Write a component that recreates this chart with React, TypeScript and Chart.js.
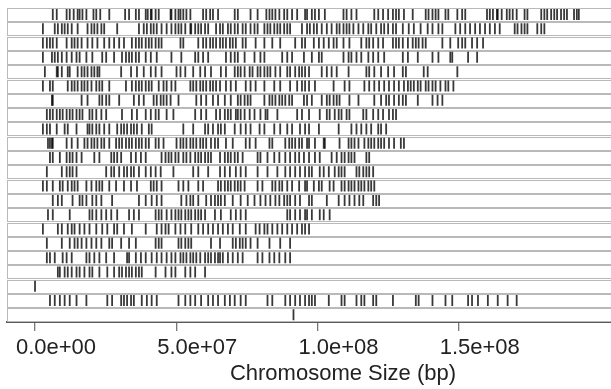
import React, { useEffect, useRef } from "react";
import { Chart, registerables } from "chart.js";

Chart.register(...registerables);

// Chromosome names (rows, top to bottom)
const CHROMOSOMES = ["1","2","3","4","5","6","7","8","9","10","11","12","13","14","15","16","17","18","19","M","X","Y"];

// Feature positions per chromosome, in Mb
const chr1 = [6.3,7.7,11.2,12.3,13.7,15.1,15.8,16.8,18.2,20.7,21.7,23.1,26.3,31.9,33.3,35.7,36.8,39.2,39.9,41.0,41.3,42.7,43.8,48.0,48.3,49.7,50.8,51.5,52.5,53.6,55.0,59.5,60.6,62.0,63.0,64.8,70.7,71.8,76.3,78.8,81.9,83.0,84.0,85.1,86.5,88.2,89.3,91.0,92.8,95.6,96.3,98.0,99.1,100.5,102.6,109.2,110.3,112.0,113.8,120.1,121.5,123.2,125.0,126.7,127.8,128.8,130.6,133.7,138.3,139.3,140.7,141.8,142.8,145.3,146.3,149.5,151.2,152.3,160.0,161.0,162.1,163.5,163.8,165.2,167.0,168.0,169.1,170.5,173.3,174.3,179.2,180.3,181.3,182.7,183.8,184.8,186.2,187.3,188.3,190.8,191.8,192.5];
const chr2 = [2.8,7.0,8.1,9.5,10.5,11.6,13.0,15.1,18.6,20.0,21.0,22.1,23.5,24.5,29.1,36.8,38.5,39.6,41.0,42.0,43.1,44.8,46.6,48.3,49.7,50.8,51.8,53.2,55.0,55.3,56.7,57.8,58.8,60.2,61.3,64.1,65.5,66.5,68.3,69.3,70.7,71.8,73.5,74.6,76.3,77.7,78.8,81.2,82.3,83.3,84.7,85.8,86.8,88.2,89.3,90.3,94.5,96.3,97.3,98.7,99.8,101.5,103.3,105.0,106.8,107.8,109.2,110.3,111.3,112.7,114.5,116.2,118.0,119.0,120.8,122.5,123.6,125.0,126.7,127.8,130.2,132.3,134.1,136.5,139.0,140.7,142.8,144.2,148.8,150.5,152.3,154.0,155.8,157.5,159.3,161.0,162.8,164.5,169.8,170.8,172.2,173.3,174.3,177.8,179.2,180.3];
const chr3 = [2.8,4.2,5.3,6.3,7.7,11.2,13.0,14.0,15.1,16.5,18.6,20.3,22.1,24.5,26.3,28.0,29.8,31.5,34.3,35.7,36.8,37.8,39.2,40.3,41.3,42.7,43.8,44.8,51.5,52.5,57.8,59.5,60.6,62.0,63.0,64.1,65.5,66.5,67.6,69.0,70.0,71.1,73.5,74.6,78.1,81.2,84.0,86.8,92.1,94.5,95.6,98.7,100.5,102.2,104.0,105.7,106.8,109.2,111.3,115.5,117.3,118.3,119.7,121.5,123.2,126.7,127.8,128.8,130.2,132.0,133.7,134.8,135.8,137.2,138.3,144.2,147.0,149.8,151.2,152.3,154.7,156.5,158.6];
const chr4 = [2.8,6.0,7.0,8.1,9.5,11.2,13.0,14.7,15.8,18.2,20.3,23.8,25.2,28.0,30.8,32.2,33.3,34.3,35.7,36.8,39.2,41.0,43.1,48.3,51.8,56.7,57.8,59.5,61.3,67.6,69.3,70.7,71.8,74.2,77.7,79.8,81.2,87.5,89.3,91.0,95.2,98.0,100.5,101.5,109.2,111.0,112.0,113.8,115.5,118.0,119.7,121.5,123.6,130.2,132.0,135.5,140.7,142.8,147.0,147.7,153.3,156.5];
const chr5 = [3.5,7.7,8.1,9.5,11.6,12.3,15.1,16.5,17.5,18.6,20.0,21.0,22.1,22.8,30.5,34.0,36.1,38.5,41.0,42.7,44.8,50.1,51.5,53.2,56.0,58.5,60.2,62.3,65.8,67.6,70.7,71.8,72.8,74.2,76.0,77.0,78.8,79.8,81.2,82.3,83.3,85.1,86.8,89.3,90.3,92.1,93.5,94.5,95.6,97.0,101.5,103.3,105.0,106.8,111.0,117.3,118.3,120.1,122.5,125.0,127.1,130.2,131.3,137.6,139.0,149.5];
const chr6 = [2.8,5.3,6.3,11.6,13.0,14.0,15.1,16.5,17.5,18.6,20.0,21.7,22.8,23.8,26.3,32.2,34.3,35.7,36.8,37.8,39.2,40.3,41.3,43.8,45.5,46.6,48.3,49.7,55.0,56.0,57.1,58.5,59.5,60.6,62.0,63.0,64.1,65.5,67.6,69.3,71.1,74.6,76.3,78.1,81.2,84.7,86.8,90.3,92.8,94.5,95.6,97.0,99.1,105.7,109.6,111.3,116.6,118.3,120.1,121.8,123.6,125.3,127.1,128.8,130.6,132.0,133.0,134.1,135.5,136.5,138.3,139.3,140.7,141.8,143.5,145.3,146.3,148.1];
const chr7 = [6.0,6.3,16.5,18.6,22.8,23.8,25.2,26.3,29.8,35.0,36.8,38.5,42.0,43.1,44.5,45.5,46.6,48.0,50.8,57.1,58.8,60.6,63.0,64.8,67.2,69.3,71.8,72.8,74.2,75.3,76.3,81.2,83.0,84.0,85.1,86.5,87.5,88.6,90.0,91.0,95.2,96.3,98.0,101.5,103.3,104.3,105.7,106.8,107.8,111.3,114.5,120.1,122.5,124.3,125.3,127.1,128.8,130.2,131.3,135.5,140.7,142.5,144.2];
const chr8 = [4.2,5.3,6.3,7.7,8.8,9.8,11.2,12.3,13.3,14.7,15.8,16.8,19.3,20.3,21.7,23.5,25.2,30.8,34.3,36.1,39.2,41.0,42.7,43.8,46.6,49.0,56.7,58.8,60.6,64.1,65.5,67.2,68.3,69.3,71.1,71.8,72.8,74.2,76.0,77.7,79.8,81.6,82.3,85.8,92.8,94.5,97.0,100.8,103.3,104.3,106.1,107.5,108.5,110.3,111.3,116.2,117.3,119.7,121.5,123.2,125.3,126.7,127.8];
const chr9 = [2.8,4.2,5.3,7.7,10.5,11.6,14.7,18.6,19.3,20.3,21.7,22.8,24.5,26.3,29.1,30.5,31.5,32.6,34.0,35.0,36.1,37.8,40.3,41.3,52.5,56.0,60.2,61.3,63.0,64.8,65.8,67.2,70.7,72.8,74.6,76.3,79.5,81.2,84.7,86.8,89.3,91.0,93.8,95.6,97.0,100.5,107.5,112.0,113.8,115.5,117.3,119.0,121.5,122.5,124.3];
const chr10 = [4.6,5.3,6.0,6.3,11.2,13.0,15.1,17.5,18.6,20.0,21.0,22.1,23.5,24.5,26.3,28.7,29.8,30.8,32.2,33.3,34.3,35.7,36.8,37.8,39.2,40.3,42.7,43.8,45.5,50.1,51.5,52.5,53.6,55.0,56.0,57.1,58.5,59.5,60.6,62.3,63.7,64.8,67.6,70.0,74.6,76.0,78.1,83.0,84.0,88.6,90.0,91.0,92.1,93.5,94.5,96.3,97.0,99.1,102.2,102.6,107.8,111.0,112.0,113.1,114.5,116.6,118.0,119.0,120.1,121.5,122.5,123.6,125.3,127.1,129.5,130.6];
const chr11 = [5.3,6.3,8.8,11.2,12.3,13.3,14.7,16.5,21.0,22.8,27.0,28.0,29.1,30.5,34.0,35.7,37.5,39.2,44.8,46.2,47.3,48.3,49.7,50.8,52.5,53.6,55.0,56.7,57.8,58.8,60.2,61.3,62.3,65.5,67.2,68.3,69.3,70.7,71.8,73.5,78.8,79.8,82.3,84.7,86.5,88.6,90.3,92.1,93.5,95.2,97.0,99.1,100.8,105.0,106.8,108.5,109.6,111.0,112.0,113.1,117.3,118.3];
const chr12 = [4.2,9.5,11.2,12.3,13.3,14.7,25.2,27.0,28.0,29.8,31.5,32.6,34.0,35.0,36.8,39.2,41.0,42.7,44.5,49.0,56.0,57.8,61.3,65.5,67.2,69.0,71.1,72.8,74.6,78.8,82.3,85.8,88.6,90.3,92.1,93.8,95.6,97.0,98.0,100.8,102.2,104.0,106.1,107.5,108.5,109.6,113.8,114.8,116.2,117.3,118.3,119.7];
const chr13 = [2.8,4.2,6.3,8.8,9.8,11.6,13.0,14.0,15.1,18.2,20.0,21.7,22.8,23.8,26.3,28.7,31.5,34.0,36.1,41.0,42.0,43.1,44.8,50.8,52.5,54.3,57.8,59.5,64.8,65.8,67.2,68.3,69.3,70.7,71.8,72.8,74.2,78.8,80.5,84.0,85.1,86.5,87.5,89.3,91.0,93.5,95.6,96.3,98.7,100.5,101.5,104.3,105.7,108.5,109.6,111.0,112.0,113.1,114.5,115.5,116.6,118.0,119.0,120.1];
const chr14 = [6.3,8.1,9.5,13.3,15.8,16.8,18.2,20.3,21.7,23.5,27.3,36.8,39.2,41.3,43.1,44.8,51.8,53.6,55.0,56.0,57.8,60.6,62.3,63.7,64.8,65.8,67.2,70.0,72.8,75.3,77.7,79.8,81.6,83.3,85.1,86.5,88.2,89.3,90.3,92.1,93.8,97.0,98.0,103.3,107.5,109.6,111.3,113.1,114.8,116.2,119.7,120.8,121.8];
const chr15 = [4.6,6.3,12.3,19.3,20.3,21.7,23.5,25.2,27.0,29.1,33.3,35.0,36.8,42.7,43.8,44.8,46.6,48.3,49.7,50.8,51.8,53.2,54.3,55.3,56.7,57.8,58.8,60.2,63.7,65.8,69.3,71.1,72.8,74.6,89.3,90.3,92.1,93.8,95.6,96.3,98.0,100.8,102.2,104.3];
const chr16 = [2.8,8.1,9.5,11.6,13.0,14.0,15.8,17.5,19.3,21.7,23.8,25.6,28.0,29.1,31.5,34.3,39.2,43.1,44.8,46.2,47.3,49.7,51.5,53.2,55.3,57.8,59.5,61.3,63.0,64.8,66.5,68.3,70.0,72.5,74.6,78.1,79.5,81.2,82.3,84.0,85.8,87.5,89.3,91.0,92.8,94.5,95.6,97.0];
const chr17 = [4.2,9.5,12.3,14.0,15.1,16.5,18.2,20.0,21.7,23.5,26.3,27.3,30.5,33.3,35.7,42.7,43.8,44.8,50.8,51.8,53.2,54.3,55.3,62.3,65.5,70.0,71.1,72.5,73.5,74.6,76.3,78.8,83.0,86.8,90.3];
const chr18 = [4.2,5.3,7.0,9.8,11.2,13.0,18.2,19.3,21.0,22.8,25.2,28.0,32.6,33.3,35.7,37.5,39.2,41.3,43.1,44.8,46.6,48.3,49.7,51.5,52.5,53.6,55.0,56.0,57.1,58.5,60.2,61.3,62.3,63.7,64.8,65.5,66.5,68.3,70.0,71.8,73.5,78.8,80.5,83.0,84.7,86.5,88.6,90.3];
const chr19 = [8.1,8.8,10.5,11.6,13.0,14.7,15.8,17.5,19.3,20.3,22.8,25.6,28.0,29.8,30.8,32.2,33.3,34.3,35.7,36.8,37.8,42.7,46.2,48.3,49.7,53.2,55.0,56.7,60.2];
const chrM = [0.01];
const chrX = [5.3,7.0,8.8,10.5,12.3,14.7,18.2,25.6,27.3,30.5,31.5,32.6,34.0,35.0,37.8,39.6,41.3,43.1,50.8,53.2,55.0,56.7,58.8,61.3,63.0,64.8,67.2,69.0,70.7,72.8,74.6,82.3,84.0,88.6,90.3,92.1,93.8,95.6,97.0,98.0,99.1,104.0,108.5,109.6,113.8,115.5,116.6,119.7,120.8,126.7,134.8,135.8,140.7,145.3,147.7,153.3,154.7,156.8,160.3,163.8,167.3,170.5];
const chrY = [91.5];

const ROWS = [chr1,chr2,chr3,chr4,chr5,chr6,chr7,chr8,chr9,chr10,chr11,chr12,chr13,chr14,chr15,chr16,chr17,chr18,chr19,chrM,chrX,chrY];

const TICK_VALUES = [0, 5e7, 1e8, 1.5e8];
const X_MIN = -9.8e6;
const X_MAX = 227.85e6;

function fmtExp(v: number): string {
  const s = v.toExponential(1);
  const [m, e] = s.split("e");
  const sign = e[0] === "-" ? "-" : "+";
  const digits = e.replace(/^[+-]/, "").padStart(2, "0");
  return `${m}e${sign}${digits}`;
}

const rowBoxes = {
  id: "rowBoxes",
  beforeDatasetsDraw(chart: any) {
    const { ctx, chartArea, scales } = chart;
    const y = scales.y;
    ctx.save();
    ctx.strokeStyle = "#b9b9b9";
    ctx.lineWidth = 1;
    for (let i = 0; i < CHROMOSOMES.length; i++) {
      const a = y.getPixelForValue(i + 1 - 0.45);
      const b = y.getPixelForValue(i + 1 + 0.45);
      const top = Math.min(a, b);
      const h = Math.abs(b - a);
      ctx.strokeRect(Math.round(chartArea.left) + 0.5, Math.round(top) + 0.5, chartArea.right - chartArea.left + 20, Math.round(h));
    }
    ctx.restore();
  },
};

const FONT = "'Liberation Sans', Arial, sans-serif";

export default function App() {
  const ref = useRef<HTMLCanvasElement | null>(null);
  useEffect(() => {
    if (!ref.current) return;
    const datasets = ROWS.map((row, i) => ({
      label: CHROMOSOMES[i],
      data: row.map((p) => ({ x: p * 1e6, y: i + 1 })),
      pointStyle: "line" as const,
      pointRotation: 90,
      pointRadius: 5.5,
      pointHoverRadius: 5.5,
      pointBorderWidth: 1.8,
      pointBorderColor: "rgba(0,0,0,0.78)",
      pointBackgroundColor: "rgba(0,0,0,0.78)",
      showLine: false,
    }));
    const chart = new Chart(ref.current, {
      type: "scatter",
      data: { datasets },
      plugins: [rowBoxes],
      options: {
        animation: false,
        responsive: false,
        events: [],
        layout: { padding: { top: 7, left: 7, right: 0, bottom: 0 } },
        plugins: { legend: { display: false }, tooltip: { enabled: false } },
        scales: {
          x: {
            type: "linear",
            min: X_MIN,
            max: X_MAX,
            afterBuildTicks: (scale: any) => {
              scale.ticks = TICK_VALUES.map((v) => ({ value: v }));
            },
            afterFit: (scale: any) => {
              scale.height = 67;
              scale.paddingLeft = 0;
              scale.paddingRight = 0;
            },
            grid: {
              drawOnChartArea: false,
              drawTicks: true,
              tickLength: 9,
              color: "#777",
              lineWidth: 1.3,
            },
            border: { display: true, color: "#5a5a5a", width: 2 },
            ticks: {
              autoSkip: false,
              maxRotation: 0,
              padding: 4,
              labelOffset: 21,
              color: "#222",
              font: { family: FONT, size: 22 },
              callback: (v: any) => fmtExp(Number(v)),
            },
            title: {
              display: true,
              text: "Chromosome Size (bp)",
              color: "#222",
              font: { family: FONT, size: 22 },
              padding: { top: 0, bottom: 2 },
            },
          },
          y: {
            type: "linear",
            min: 0.5,
            max: CHROMOSOMES.length + 0.5,
            reverse: true,
            display: false,
          },
        },
      },
    });
    return () => chart.destroy();
  }, []);
  return (
    <div style={{ position: "fixed", left: 0, top: 0, width: 611, height: 389, overflow: "hidden", background: "#fff" }}>
      <canvas ref={ref} width={686} height={389} style={{ display: "block" }} />
    </div>
  );
}
